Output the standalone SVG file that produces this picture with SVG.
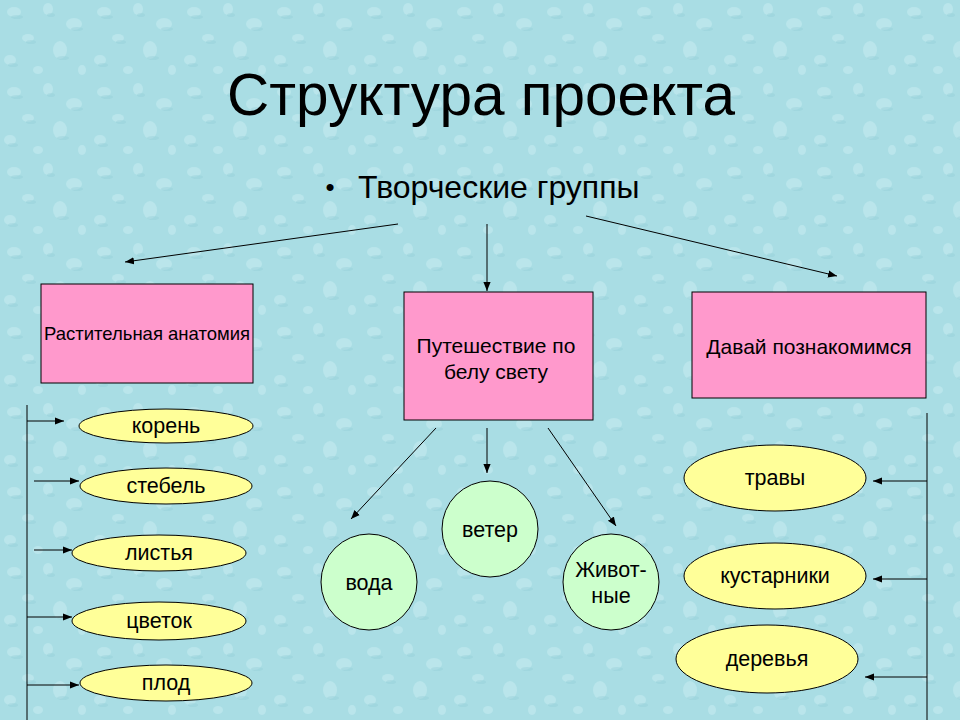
<svg xmlns="http://www.w3.org/2000/svg" width="960" height="720" viewBox="0 0 960 720">
  <defs>
    <pattern id="drops" width="90" height="80" patternUnits="userSpaceOnUse">
      <rect width="90" height="80" fill="#a9dde4"/>
      <g fill="#c4ebf0" opacity="0.6">
        <ellipse cx="14" cy="12" rx="7" ry="5"/>
        <ellipse cx="48" cy="9" rx="5" ry="6"/>
        <ellipse cx="74" cy="24" rx="8" ry="6"/>
        <ellipse cx="28" cy="38" rx="6" ry="4"/>
        <ellipse cx="60" cy="50" rx="7" ry="9"/>
        <ellipse cx="10" cy="60" rx="6" ry="5"/>
        <ellipse cx="38" cy="70" rx="5" ry="4"/>
        <ellipse cx="82" cy="70" rx="4" ry="5"/>
      </g>
      <g fill="#93cdd6" opacity="0.4">
        <ellipse cx="17" cy="17" rx="6" ry="2"/>
        <ellipse cx="51" cy="15" rx="4" ry="2"/>
        <ellipse cx="77" cy="29" rx="6" ry="2"/>
        <ellipse cx="31" cy="42" rx="5" ry="2"/>
        <ellipse cx="63" cy="58" rx="6" ry="2"/>
        <ellipse cx="13" cy="65" rx="5" ry="2"/>
      </g>
    </pattern>
    <marker id="arr" viewBox="0 0 10 10" refX="10" refY="5" markerWidth="9" markerHeight="9" markerUnits="userSpaceOnUse" orient="auto">
      <path d="M0,1 L10,5 L0,9 Z" fill="#000"/>
    </marker>
    <style>
      .t { font-family: "Liberation Sans", Arial, "Noto Sans CJK SC", sans-serif; fill: #000; text-anchor: middle; }
      .box { fill: #ff99cc; stroke: #000; stroke-width: 1; }
      .leaf { fill: #ffff99; stroke: #000; stroke-width: 1; }
      .circ { fill: #ccffcc; stroke: #000; stroke-width: 1; }
      .ln { stroke: #000; stroke-width: 1; fill: none; }
      .ar { stroke: #000; stroke-width: 1; fill: none; marker-end: url(#arr); }
      .lbl { font-size: 21.5px; }
    </style>
  </defs>

  <rect width="960" height="720" fill="url(#drops)"/>

  <g id="title">
    <text class="t" x="481" y="115" font-size="58.5">Структура проекта</text>
  </g>
  <g id="subtitle">
    <text class="t" x="330" y="196" font-size="26">•</text>
    <text class="t" x="358" y="198" font-size="32" style="text-anchor:start">Творческие группы</text>
  </g>

  <g id="connectors">
    <line class="ar" x1="398" y1="224" x2="125" y2="262"/>
    <line class="ar" x1="487" y1="224" x2="487" y2="291"/>
    <line class="ar" x1="586" y1="216" x2="837" y2="276"/>

    <line class="ar" x1="436" y1="428" x2="351" y2="519"/>
    <line class="ar" x1="487" y1="428" x2="487" y2="473"/>
    <line class="ar" x1="548" y1="428" x2="616" y2="526"/>

    <line class="ln" x1="27" y1="405" x2="27" y2="720"/>
    <line class="ar" x1="27" y1="421" x2="64" y2="421"/>
    <line class="ar" x1="34" y1="481" x2="79" y2="481"/>
    <line class="ar" x1="34" y1="550" x2="72" y2="550"/>
    <line class="ar" x1="27" y1="617" x2="72" y2="617"/>
    <line class="ar" x1="27" y1="685" x2="79" y2="685"/>

    <line class="ln" x1="927" y1="413" x2="927" y2="720"/>
    <line class="ar" x1="927" y1="481" x2="873" y2="481"/>
    <line class="ar" x1="927" y1="579" x2="873" y2="579"/>
    <line class="ar" x1="927" y1="677" x2="865" y2="677"/>
  </g>

  <g id="box-anatomy">
    <rect class="box" x="41" y="284" width="212" height="99"/>
    <text class="t" x="147" y="340" font-size="18.5">Растительная анатомия</text>
  </g>
  <g id="box-travel">
    <rect class="box" x="404" y="292" width="189" height="128"/>
    <text class="t" x="496" y="353" font-size="21">Путешествие по</text>
    <text class="t" x="496" y="379" font-size="21">белу свету</text>
  </g>
  <g id="box-meet">
    <rect class="box" x="692" y="292" width="234" height="106"/>
    <text class="t" x="809" y="354" font-size="21">Давай познакомимся</text>
  </g>

  <g id="leaf-koren">
    <ellipse class="leaf" cx="166" cy="426" rx="87" ry="17"/>
    <text class="t lbl" x="166" y="433">корень</text>
  </g>
  <g id="leaf-stebel">
    <ellipse class="leaf" cx="166" cy="486" rx="86" ry="18"/>
    <text class="t lbl" x="166" y="493">стебель</text>
  </g>
  <g id="leaf-listya">
    <ellipse class="leaf" cx="159" cy="553" rx="87" ry="18"/>
    <text class="t lbl" x="159" y="560">листья</text>
  </g>
  <g id="leaf-tsvetok">
    <ellipse class="leaf" cx="159" cy="621" rx="87" ry="19"/>
    <text class="t lbl" x="159" y="628">цветок</text>
  </g>
  <g id="leaf-plod">
    <ellipse class="leaf" cx="166" cy="683" rx="86" ry="18"/>
    <text class="t lbl" x="166" y="690">плод</text>
  </g>

  <g id="circ-voda">
    <circle class="circ" cx="369" cy="582" r="48"/>
    <text class="t lbl" x="369" y="590">вода</text>
  </g>
  <g id="circ-veter">
    <circle class="circ" cx="490" cy="529" r="48"/>
    <text class="t lbl" x="490" y="537">ветер</text>
  </g>
  <g id="circ-zhivotnye">
    <circle class="circ" cx="611" cy="582" r="48"/>
    <text class="t lbl" x="611" y="577">Живот-</text>
    <text class="t lbl" x="611" y="603">ные</text>
  </g>

  <g id="leaf-travy">
    <ellipse class="leaf" cx="775" cy="478" rx="91" ry="33"/>
    <text class="t lbl" x="775" y="485">травы</text>
  </g>
  <g id="leaf-kustarniki">
    <ellipse class="leaf" cx="775" cy="576" rx="91" ry="33"/>
    <text class="t lbl" x="775" y="583">кустарники</text>
  </g>
  <g id="leaf-derevya">
    <ellipse class="leaf" cx="767" cy="659" rx="91" ry="34"/>
    <text class="t lbl" x="767" y="666">деревья</text>
  </g>
</svg>
